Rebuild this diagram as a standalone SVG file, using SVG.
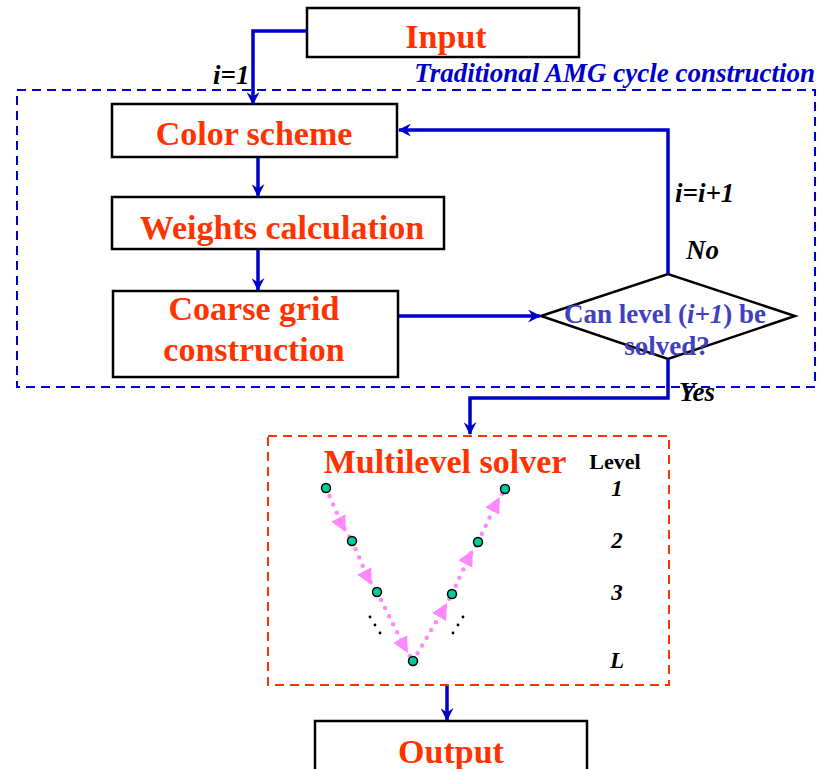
<svg xmlns="http://www.w3.org/2000/svg" width="819" height="769" viewBox="0 0 819 769">
<style>
.box{fill:#fff;stroke:#000;stroke-width:2.5}
.t{font-family:"Liberation Serif","Times New Roman",serif;font-weight:bold;fill:#ff3300;font-size:34px;text-anchor:middle}
.lab{font-family:"Liberation Serif","Times New Roman",serif;font-weight:bold;font-style:italic;fill:#000;font-size:27px}
.con{fill:none;stroke:#0000cc;stroke-width:3.5;marker-end:url(#ah)}
.pk{fill:none;stroke:#ff88ff;stroke-width:4.5;stroke-linecap:round;stroke-dasharray:0 9;marker-mid:url(#tri)}
.nd{fill:#00cc99;stroke:#000;stroke-width:1.5}
.lv{font-family:"Liberation Serif","Times New Roman",serif;font-weight:bold;font-style:italic;font-size:23px;fill:#000;text-anchor:middle}
.dq{font-family:"Liberation Serif","Times New Roman",serif;font-weight:bold;font-size:27px;fill:#4040c0;text-anchor:middle}
</style>
<defs>
<marker id="ah" viewBox="0 0 12 12" refX="11" refY="6" markerWidth="13" markerHeight="13" markerUnits="userSpaceOnUse" orient="auto">
<path d="M0,0 L12,6 L0,12 L4,6 z" fill="#0000cc"/>
</marker>
<marker id="tri" viewBox="0 0 12 12" refX="6" refY="6" markerWidth="16" markerHeight="16" markerUnits="userSpaceOnUse" orient="auto">
<path d="M0,0 L12,6 L0,12 z" fill="#ff88ff"/>
</marker>
</defs>
<rect width="819" height="769" fill="#fff"/>
<g id="amg-frame">
<rect x="17" y="90" width="798" height="297" fill="none" stroke="#0000cc" stroke-width="2" stroke-dasharray="9,6"/>
<text x="815" y="82" text-anchor="end" font-family="'Liberation Serif','Times New Roman',serif" font-weight="bold" font-style="italic" font-size="27" fill="#0000cc">Traditional AMG cycle construction</text>
</g>
<g id="solver-frame">
<rect x="268" y="436" width="401" height="249" fill="none" stroke="#ff3300" stroke-width="2" stroke-dasharray="9,6"/>
</g>
<g id="input"><rect class="box" x="307" y="8" width="272" height="49"/><text class="t" x="446" y="48">Input</text></g>
<g id="color"><rect class="box" x="112" y="104" width="285" height="53"/><text class="t" x="254" y="145">Color scheme</text></g>
<g id="weights"><rect class="box" x="112" y="197" width="332" height="52"/><text class="t" x="282" y="239">Weights calculation</text></g>
<g id="coarse"><rect class="box" x="113" y="291" width="285" height="86"/><text class="t" x="254" y="320">Coarse grid</text><text class="t" x="254" y="361">construction</text></g>
<g id="decision"><polygon points="541,316 668,274 795,316 668,359" fill="#fff" stroke="#000" stroke-width="2.5"/>
<text class="dq" x="665" y="323">Can level (<tspan font-style="italic">i+1</tspan>) be</text>
<text class="dq" x="667" y="355">solved?</text></g>
<g id="output"><rect class="box" x="315" y="721" width="272" height="60"/><text class="t" x="451" y="763">Output</text></g>
<g id="connectors">
<path class="con" d="M307,31 H253 V104"/>
<path class="con" d="M258,158 V196"/>
<path class="con" d="M258,250 V290"/>
<path class="con" d="M399,316 H540"/>
<path class="con" d="M668,274 V130 H399"/>
<path class="con" d="M668,359 V398 H470 V434"/>
<path class="con" d="M447,686 V720"/>
</g>
<g id="labels">
<text class="lab" x="213" y="84">i=1</text>
<text class="lab" x="675" y="202">i=i+1</text>
<text class="lab" x="686" y="259">No</text>
<text class="lab" x="679" y="401">Yes</text>
</g>
<g id="multilevel">
<text class="t" x="445" y="473">Multilevel solver</text>
<text x="615" y="469" text-anchor="middle" font-family="'Liberation Serif','Times New Roman',serif" font-weight="bold" font-size="22" fill="#000">Level</text>
<text class="lv" x="617" y="496">1</text>
<text class="lv" x="617" y="548">2</text>
<text class="lv" x="617" y="600">3</text>
<text class="lv" x="617" y="668">L</text>
<path class="pk" d="M326,488 L342,525 L352,541"/>
<path class="pk" d="M352,541 L368,578 L377,592"/>
<path class="pk" d="M377,592 L404,646 L413,661"/>
<path class="pk" d="M413,661 L443,610 L452,594"/>
<path class="pk" d="M452,594 L469,557 L478,542"/>
<path class="pk" d="M478,542 L496,504 L505,489"/>
<circle class="nd" cx="326" cy="488" r="4.5"/>
<circle class="nd" cx="352" cy="541" r="4.5"/>
<circle class="nd" cx="377" cy="592" r="4.5"/>
<circle class="nd" cx="413" cy="661" r="4.5"/>
<circle class="nd" cx="452" cy="594" r="4.5"/>
<circle class="nd" cx="478" cy="542" r="4.5"/>
<circle class="nd" cx="505" cy="489" r="4.5"/>
<g fill="#000"><circle cx="370" cy="617" r="1.4"/><circle cx="375" cy="625" r="1.4"/><circle cx="380" cy="633" r="1.4"/><circle cx="463" cy="617" r="1.4"/><circle cx="458" cy="625" r="1.4"/><circle cx="453" cy="633" r="1.4"/></g>
</g>
</svg>
